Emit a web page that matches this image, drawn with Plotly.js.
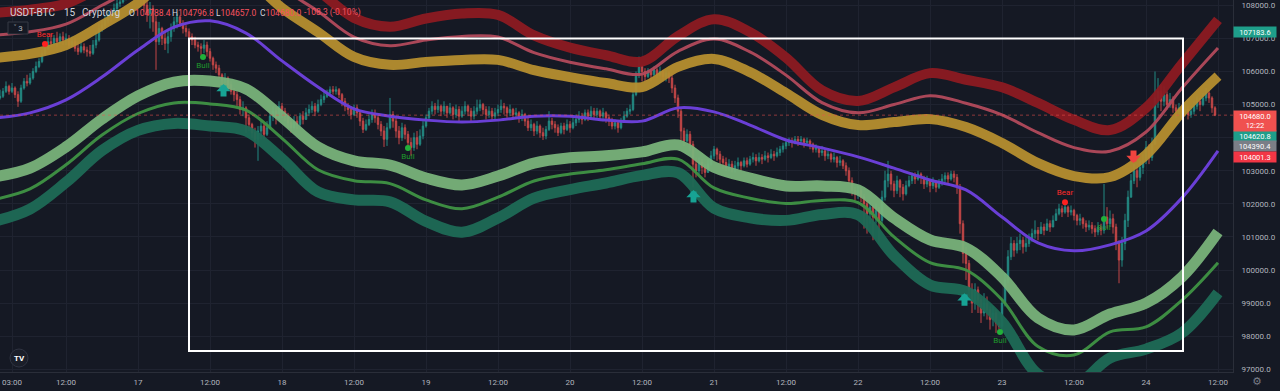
<!DOCTYPE html>
<html>
<head>
<meta charset="utf-8">
<script src="https://cdn.plot.ly/plotly-3.0.1.min.js"></script>
<style>
  html,body{margin:0;padding:0;background:#151924;}
  #chart{width:1280px;height:391px;}
</style>
</head>
<body>
<div id="chart"></div>
<script>
// ---------------- DATA ----------------
const titleParts = ['USDT-BTC', '15', 'Cryptorg'];
const ohlcLabels = ['O', 'H', 'L', 'C'];
const ohlcValues = ['104788.4', '104796.8', '104657.0', '104680.0'];
const changeText = '-108.3 (-0.10%)';
const countdownText = '12:22';

// 30-minute candles starting 2025-06-16 01:00
const candleStart = '2025-06-16T01:00:00Z';
const candleStepMinutes = 30;
const firstOpen = 105200;
const closes = [
105250,105400,105550,105400,105500,105300,105100,105500,105700,105650,
105800,106000,106150,106300,106550,106700,106900,106850,107000,106900,
107050,106950,107000,106800,106900,106700,106600,106750,106650,106600,
106550,106800,106950,107300,107400,107550,107700,107650,107900,108050,
108100,108250,108350,108450,108400,108500,108350,108200,108000,107750,
107900,107500,106900,107300,107000,106850,107050,107300,107500,107650,
107450,107300,107200,107050,106950,106800,106750,106700,106800,106600,
106400,106200,106100,105900,105750,105800,105600,105400,105300,105150,
104850,104900,104600,104400,104150,103950,104200,104350,104100,104300,
104650,104800,104600,104950,104800,104650,104450,104300,104500,104400,
104650,104550,104750,104850,104950,104800,105000,105150,105250,105350,
105450,105400,105450,105300,105100,104950,104850,104700,104900,104750,
104500,104250,104400,104550,104700,104600,104400,104200,103950,104300,
104700,104500,104200,104000,104300,104100,103850,103700,104000,103800,
104050,104350,104600,104800,104950,104850,104950,104800,104950,104750,
104900,104700,104850,104650,104800,104950,104800,104650,104800,104900,
105000,104850,104700,104800,104650,104750,104850,104950,104900,104750,
104850,104700,104750,104600,104700,104500,104300,104400,104200,104350,
104150,104050,104250,104500,104400,104300,104150,104350,104250,104400,
104300,104450,104550,104650,104550,104750,104650,104800,104700,104800,
104650,104750,104600,104500,104350,104450,104300,104500,104650,104800,
104850,105300,105900,106150,106000,105850,106000,105900,106050,105900,
106000,105850,105950,105800,105500,105200,104800,104200,103900,104100,
103800,103200,103000,103250,103100,102950,103200,103450,103650,103500,
103350,103250,103100,103200,103050,103150,103250,103150,103300,103200,
103350,103400,103300,103400,103350,103450,103400,103500,103450,103550,
103650,103750,103850,103900,103850,103950,103900,103950,103850,103900,
103800,103650,103700,103550,103600,103450,103500,103350,103400,103250,
103300,103150,103000,102700,102400,102300,102400,102200,102000,101700,
101900,101600,101800,101500,102200,102700,102900,102600,102400,102700,
102500,102300,102550,102700,102850,102750,102900,102800,102600,102700,
102550,102650,102500,102650,102750,102850,102750,102900,102800,102500,
101400,100500,100200,99400,99000,99400,99100,98700,99000,98800,
98500,98700,98400,98300,99000,99700,100400,100800,100600,100800,
100900,100700,100800,100950,101100,101200,101100,101300,101200,101400,
101300,101500,101700,101850,101750,101900,101750,101800,101650,101500,
101550,101400,101300,101350,101250,101150,101300,101200,101600,101400,
101550,101300,100800,100300,100800,101500,102200,102700,103000,102800,
103100,103300,103700,103400,103800,105200,105400,105100,105300,105000,
105150,104900,104800,104900,104750,104850,104700,104800,104950,105100,
105000,105200,105350,105200,104900,104680
];
const highs = [
105450,105500,105700,105600,105650,105550,105400,105600,105800,105900,
105950,106100,106300,106400,106650,106800,107050,107150,107100,107200,
107150,107200,107150,107100,107050,107000,106900,106900,106850,106750,
106800,106950,107200,107450,107550,107700,107850,107900,108050,108200,
108300,108400,108500,108600,108650,108700,108600,108450,108300,108150,
108100,108000,107700,107500,107350,107200,107250,107450,107650,107750,
107700,107550,107400,107300,107150,107050,106900,106850,106950,106900,
106700,106450,106300,106200,105950,105950,105850,105700,105500,105400,
105250,105100,104950,104700,104450,104300,104350,104500,104450,104500,
104750,104950,104900,105100,105050,104900,104750,104550,104650,104650,
104750,104800,104900,105000,105100,105050,105150,105300,105400,105450,
105550,105560,105550,105500,105350,105200,105050,104950,105000,105000,
104800,104600,104550,104700,104850,104850,104700,104500,104350,104450,
105200,104800,104600,104350,104450,104400,104200,104000,104150,104200,
104250,104500,104700,104900,105100,105050,105150,105000,105100,104950,
105050,104950,105000,104950,104950,105100,105000,104900,104950,105150,
105150,105050,104950,104950,104900,104900,105000,105150,105050,104950,
105000,104900,104900,104800,104850,104750,104600,104550,104450,104500,
104400,104300,104350,104800,104600,104500,104400,104450,104450,104550,
104500,104600,104700,104800,104750,104850,104850,104950,104900,104900,
104850,104900,104800,104700,104600,104550,104500,104600,104800,104900,
105000,105400,106000,106450,106200,106100,106100,106050,106150,106100,
106150,106050,106050,106000,105900,105600,105300,104900,104300,104250,
104200,103900,103400,103400,103350,103200,103350,103600,103750,103700,
103600,103450,103400,103350,103300,103300,103400,103300,103400,103400,
103450,103550,103500,103550,103500,103600,103550,103650,103600,103700,
103750,103850,103950,104000,104000,104050,104050,104050,104000,104000,
103950,103850,103800,103750,103750,103650,103650,103550,103550,103450,
103450,103350,103250,103100,102800,102500,102550,102500,102300,102100,
102050,101950,102000,101900,102400,103000,103300,103000,102700,102850,
102750,102600,102700,102850,102950,102950,103000,102950,102850,102850,
102750,102800,102700,102750,102900,102950,102950,103000,103000,102900,
102600,101500,100700,100300,99600,99600,99500,99200,99300,99200,
98900,98900,98800,98500,99100,99900,100600,101000,100900,101000,
101100,101000,101000,101100,101250,101500,101300,101450,101400,101550,
101500,101650,101850,102000,101950,101980,101950,101950,101850,101700,
101700,101600,101500,101500,101450,101350,101450,101400,102600,101900,
101800,101700,101400,100900,101000,101700,102400,102900,103200,103100,
103300,103500,103900,103800,104000,106000,105800,105600,105550,105400,
105350,105250,105000,105050,105000,105050,104950,104950,105100,105250,
105200,105350,105500,105450,105250,104950
];
const lows = [
105150,105200,105350,105300,105350,105200,104930,105050,105450,105550,
105600,105750,105950,106100,106250,106500,106650,106750,106800,106750,
106850,106800,106800,106700,106750,106600,106500,106550,106550,106450,
106450,106500,106700,106900,107200,107300,107450,107500,107600,107850,
107950,108050,108150,108300,108250,108350,108200,108000,107800,107500,
107300,107200,106050,106800,106800,106650,106550,106900,107200,107300,
107350,107150,107050,106950,106800,106700,106600,106500,106550,106450,
106300,106050,105950,105800,105600,105650,105450,105300,105100,104950,
104700,104650,104150,104200,104000,103700,103300,103950,103950,104050,
104250,104500,104400,104550,104600,104500,104300,104150,104250,104250,
104350,104400,104550,104650,104750,104650,104750,104950,105050,105200,
105300,105300,105300,105200,104950,104800,104700,104550,104650,104600,
104350,104140,104200,104350,104450,104450,104250,104050,103720,103750,
104250,104300,104000,103800,103900,103950,103600,103450,103600,103650,
103750,103950,104300,104500,104700,104700,104750,104650,104700,104600,
104700,104550,104600,104500,104600,104700,104650,104500,104550,104700,
104800,104700,104550,104600,104500,104550,104650,104750,104700,104600,
104650,104550,104600,104450,104500,104350,104200,104200,104050,104100,
104000,103930,103950,104200,104250,104150,104050,104100,104100,104200,
104150,104250,104350,104450,104400,104500,104500,104600,104550,104600,
104500,104550,104450,104350,104250,104250,104150,104250,104450,104600,
104700,104800,105250,105800,105700,105700,105800,105700,105850,105800,
105850,105700,105700,105650,105350,105050,104600,103900,103750,103850,
103600,102500,102800,102900,102900,102800,102950,103150,103350,103300,
103200,103050,103000,103000,102950,102950,103050,103000,103100,103100,
103150,103250,103150,103250,103200,103300,103250,103350,103300,103400,
103450,103550,103650,103750,103700,103800,103750,103800,103700,103750,
103650,103550,103550,103400,103450,103300,103350,103250,103250,103100,
103150,103050,102850,102600,102250,102100,102150,102050,101250,101100,
101400,100900,101400,100800,101400,102100,102500,102400,102200,102300,
102200,102100,102250,102500,102600,102600,102700,102600,102450,102500,
102350,102450,102350,102450,102550,102650,102600,102700,102650,102300,
101100,100200,99700,99100,98700,98800,98700,98400,98600,98500,
98200,98300,98100,98200,98200,98900,99600,100300,100400,100500,
100600,100500,100550,100700,100850,100950,100900,101100,101050,101200,
101150,101300,101500,101650,101600,101700,101600,101650,101500,101350,
101350,101250,101150,101200,101100,101000,101050,101050,101100,101250,
101300,101100,100600,99600,100100,100600,101300,102200,102600,102500,
102700,102900,103200,103200,103300,103800,104900,104800,104950,104850,
104900,104750,104600,104700,104600,104650,104550,104600,104700,104850,
104800,104950,105100,105050,104750,104650
];

// Smoothed band indicator, sampled every 6 hours
const bandTimes = [
'2025-06-16 00:00','2025-06-16 06:00','2025-06-16 12:00','2025-06-16 18:00',
'2025-06-17 00:00','2025-06-17 06:00','2025-06-17 12:00','2025-06-17 18:00',
'2025-06-18 00:00','2025-06-18 06:00','2025-06-18 12:00','2025-06-18 18:00',
'2025-06-19 00:00','2025-06-19 06:00','2025-06-19 12:00','2025-06-19 18:00',
'2025-06-20 00:00','2025-06-20 06:00','2025-06-20 12:00','2025-06-20 18:00',
'2025-06-21 00:00','2025-06-21 06:00','2025-06-21 12:00','2025-06-21 18:00',
'2025-06-22 00:00','2025-06-22 06:00','2025-06-22 12:00','2025-06-22 18:00',
'2025-06-23 00:00','2025-06-23 06:00','2025-06-23 12:00','2025-06-23 18:00',
'2025-06-24 00:00','2025-06-24 06:00','2025-06-24 12:00'
];
const centerLine = [104590,104750,105140,105830,106650,107340,107530,107160,106320,105530,104870,104650,104530,104470,104530,104650,104650,104530,104500,104900,104780,104380,103930,103690,103420,103080,102720,102420,101600,100820,100580,100760,101180,102180,103600];
const upperBand1 = [106410,106530,106800,107400,108070,109010,109340,108860,107920,107190,106440,106200,106290,106350,106350,106040,105830,105650,105530,106140,106380,105980,105350,104690,104380,104470,104560,104320,103840,103230,102840,102810,103480,104780,105860];
const upperBand2 = [107100,107200,107430,108000,108610,109640,110030,109500,108530,107820,107040,106780,106950,107060,107040,106570,106280,106080,105920,106610,106980,106590,105890,105060,104750,105000,105270,105040,104690,104150,103700,103590,104170,105500,106710];
const upperBand3 = [107770,107870,108050,108580,109140,110250,110700,110120,109120,108440,107620,107350,107600,107750,107710,107090,106720,106490,106300,107070,107580,107190,106420,105430,105110,105520,105950,105750,105520,105050,104540,104230,104900,106230,107560];
const lowerBand1 = [102810,103080,103720,104560,105260,105680,105710,105470,104620,103720,103300,103170,102780,102570,102840,103230,103390,103450,103570,103780,103110,102780,102540,102540,102420,101570,100910,100670,99790,98550,98190,98670,99000,99790,101150];
const lowerBand2 = [102130,102450,103180,104080,104730,105050,105020,104830,103980,103030,102700,102610,102120,101850,102200,102690,102900,103030,103210,103350,102480,102170,102010,102100,102040,101000,100220,100000,99100,97690,97430,98130,98280,99090,100220];
const lowerBand3 = [101470,101840,102650,103610,104220,104430,104350,104200,103360,102360,102120,102060,101470,101140,101570,102170,102430,102630,102860,102940,101870,101580,101500,101680,101670,100440,99550,99350,98430,96850,96520,97340,97610,98100,99310];

// Signal labels
const signalTimes  = ['2025-06-16 08:30','2025-06-17 10:50','2025-06-18 21:00','2025-06-22 23:40','2025-06-23 10:30','2025-06-23 17:00'];
const signalPrices = [106830, 106440, 103690, 98130, 102050, 101540];
const signalTypes  = ['Bear','Bull','Bull','Bull','Bear','Bull'];

// Arrow signals (tip position)
const arrowTimes  = ['2025-06-17 14:15','2025-06-20 20:35','2025-06-22 17:45','2025-06-23 21:55'];
const arrowPrices = [105620, 102420, 99300, 103235];
const arrowDirs   = ['up','up','up','down'];

// Drawn rectangle
const rectTimes  = ['2025-06-17 08:30','2025-06-24 06:10'];
const rectPrices = [107000, 97550];

// Right-axis value tags
const tagValues = [107183.6, 104620.8, 104390.4, 104001.3];
const tagColors = ['#1e9e8a', '#1e9e8a', '#7b7e87', '#f23645'];

// Price-axis ticks (the 104000.0 label is covered by the value tags)
const priceTicks = [97000, 98000, 99000, 100000, 101000, 102000, 103000, 104000, 105000, 106000, 107000, 108000];
const priceTickText = ['97000.0','98000.0','99000.0','100000.0','101000.0','102000.0','103000.0','','105000.0','106000.0','107000.0','108000.0'];

// X-axis ticks
const tickVals = ['2025-06-16 03:00','2025-06-16 12:00','2025-06-17 00:00','2025-06-17 12:00','2025-06-18 00:00','2025-06-18 12:00',
  '2025-06-19 00:00','2025-06-19 12:00','2025-06-20 00:00','2025-06-20 12:00','2025-06-21 00:00','2025-06-21 12:00',
  '2025-06-22 00:00','2025-06-22 12:00','2025-06-23 00:00','2025-06-23 12:00','2025-06-24 00:00','2025-06-24 12:00'];
const tickText = ['03:00','12:00','17','12:00','18','12:00','19','12:00','20','12:00','21','12:00','22','12:00','23','12:00','24','12:00'];
const xRange = ['2025-06-16 01:00','2025-06-24 14:30'];
const yRange = [96918, 108160];

// ---------------- BUILD ----------------
const t0 = Date.parse(candleStart);
const candleTimes = closes.map((_, i) => new Date(t0 + i * candleStepMinutes * 60000).toISOString().replace('T',' ').slice(0,16));
const opens = closes.map((c, i) => i === 0 ? firstOpen : closes[i - 1]);
const lastClose = closes[closes.length - 1];

const BG = '#151924';
const GRID = '#1f2330';
const TXT = '#b2b5be';
const FONT = 'Roboto, "Noto Sans", sans-serif';

function band(y, color, width, opacity) {
  return {type:'scatter', mode:'lines', x: bandTimes, y: y, hoverinfo:'skip',
    line:{color: color, width: width, shape:'spline', smoothing:1}, opacity: opacity || 1, showlegend:false};
}

const traces = [
  band(upperBand3, '#8c1a22', 10, 0.95),
  band(upperBand2, '#b24a5c', 3, 0.95),
  band(upperBand1, '#b58e2f', 10, 0.95),
  band(lowerBand3, '#1d6a56', 11, 0.95),
  band(lowerBand2, '#3f9445', 3, 0.95),
  band(lowerBand1, '#78b27a', 11, 0.95),
  band(centerLine, '#6a3fd6', 3, 1),
  {
    type:'candlestick', x: candleTimes, open: opens, high: highs, low: lows, close: closes,
    increasing:{line:{color:'#26a69a', width:1}, fillcolor:'#26a69a'},
    decreasing:{line:{color:'#ef5350', width:1}, fillcolor:'#ef5350'},
    whiskerwidth:0, opacity:0.8, hoverinfo:'skip', showlegend:false
  }
];

// signals
['Bear','Bull'].forEach(kind => {
  const idx = signalTypes.map((s,i)=> s===kind ? i : -1).filter(i=>i>=0);
  const isBear = kind === 'Bear';
  traces.push({
    type:'scatter', mode:'markers+text', showlegend:false, hoverinfo:'skip',
    x: idx.map(i=>signalTimes[i]), y: idx.map(i=>signalPrices[i]),
    text: idx.map(i=>signalTypes[i]),
    textposition: isBear ? 'top center' : 'bottom center',
    textfont:{family: FONT, size:8, color: isBear ? '#ff2a2a' : '#1f9a2c'},
    marker:{size:6, color: isBear ? '#ff2020' : '#22b03a'}
  });
});

const W = 1233, H = 372;
const px = v => v / W;
const py = v => 1 - v / H;

const annotations = [];
// header title pieces
const titleX = [8, 62, 80];
titleParts.forEach((t,i)=>{
  annotations.push({xref:'paper', yref:'paper', x:px(titleX[i]), y:py(13), xanchor:'left', yanchor:'middle', showarrow:false,
    text: t, font:{family:FONT, size:10, color:'#d1d4dc'}});
});
const ohlcX = [127, 170, 214, 258];
ohlcLabels.forEach((l,i)=>{
  annotations.push({xref:'paper', yref:'paper', x:px(ohlcX[i]), y:py(13), xanchor:'left', yanchor:'middle', showarrow:false,
    text: l + '<span style="color:#f7525f">' + ohlcValues[i] + '</span>', font:{family:FONT, size:8.5, color:'#d1d4dc'}});
});
annotations.push({xref:'paper', yref:'paper', x:px(302), y:py(13), xanchor:'left', yanchor:'middle', showarrow:false,
  text: changeText, font:{family:FONT, size:8.5, color:'#f7525f'}});
annotations.push({xref:'paper', yref:'paper', x:px(18), y:py(28), xanchor:'center', yanchor:'middle', showarrow:false,
  text: '\u02c5 3', font:{family:FONT, size:8, color:'#b2b5be'}});
// TV logo
annotations.push({xref:'paper', yref:'paper', x:px(19), y:py(358), xanchor:'center', yanchor:'middle', showarrow:false,
  text: '<b>TV</b>', font:{family:FONT, size:8, color:'#ffffff'}});
// gear
annotations.push({xref:'paper', yref:'paper', x:px(1257), y:py(381), xanchor:'center', yanchor:'middle', showarrow:false,
  text: '\u2699', font:{family:'DejaVu Sans', size:11, color:'#787b86'}});

// arrows
arrowTimes.forEach((t,i)=>{
  const up = arrowDirs[i] === 'up';
  annotations.push({x:t, y:arrowPrices[i], xref:'x', yref:'y', ax:0, ay: up ? 14 : -14, text:'',
    showarrow:true, arrowhead:1, arrowsize:0.4, arrowwidth:6, standoff:0,
    arrowcolor: up ? '#17a394' : '#f0443f'});
});

// right tags (stacked under the last-price label)
const tagShifts = [0, -18.5, -21.5, -19];
tagValues.forEach((v,i)=>{
  annotations.push({xref:'paper', yref:'y', x:1, y:v, xanchor:'left', yanchor:'middle', yshift:tagShifts[i],
    showarrow:false, text: v.toFixed(1), bgcolor: tagColors[i], width:42, height:10, borderpad:0,
    font:{family:FONT, size:7.5, color:'#ffffff'}});
});
annotations.push({xref:'paper', yref:'y', x:1, y:lastClose, xanchor:'left', yanchor:'top', yshift:5,
  showarrow:false, text: lastClose.toFixed(1) + '<br>' + countdownText, bgcolor:'#f0514f', width:42, height:20, borderpad:0,
  font:{family:FONT, size:7.5, color:'#ffffff'}});

const shapes = [
  {type:'line', xref:'paper', yref:'y', x0:0, x1:1, y0:lastClose, y1:lastClose,
   line:{color:'#ef5350', width:1, dash:'dot'}, opacity:0.55, layer:'above'},
  {type:'rect', xref:'x', yref:'y', x0:rectTimes[0], x1:rectTimes[1], y0:rectPrices[0], y1:rectPrices[1],
   line:{color:'#ffffff', width:2}, fillcolor:'rgba(0,0,0,0)', layer:'above'},
  {type:'circle', xref:'paper', yref:'paper', x0:px(10), x1:px(28), y0:py(349), y1:py(367),
   fillcolor:'#1a1e29', line:{color:'#2f3341', width:1}, layer:'above'},
  {type:'rect', xref:'paper', yref:'paper', x0:px(8), x1:px(28), y0:py(22), y1:py(34),
   fillcolor:BG, line:{color:'#363a45', width:1}, layer:'above'}
];

const layout = {
  width:1280, height:391,
  margin:{l:0, r:47, t:0, b:19, pad:0},
  paper_bgcolor: BG, plot_bgcolor: BG,
  showlegend:false,
  font:{family:FONT, color:TXT, size:8},
  xaxis:{type:'date', range:xRange, tickvals:tickVals, ticktext:tickText, showgrid:true, gridcolor:GRID, gridwidth:1,
    zeroline:false, showline:true, linecolor:'#2a2e39', linewidth:1, ticks:'', ticklabelstandoff:2,
    tickfont:{family:FONT, size:8, color:TXT}, rangeslider:{visible:false}, fixedrange:true},
  yaxis:{side:'right', range:yRange, tickmode:'array', tickvals:priceTicks, ticktext:priceTickText, showgrid:true, gridcolor:GRID, gridwidth:1,
    zeroline:false, showline:true, linecolor:'#2a2e39', linewidth:1, ticks:'', ticklabelstandoff:6,
    tickfont:{family:FONT, size:8, color:TXT}, fixedrange:true},
  annotations: annotations,
  shapes: shapes
};

Plotly.newPlot('chart', traces, layout, {displayModeBar:false, staticPlot:true});
</script>
</body>
</html>
